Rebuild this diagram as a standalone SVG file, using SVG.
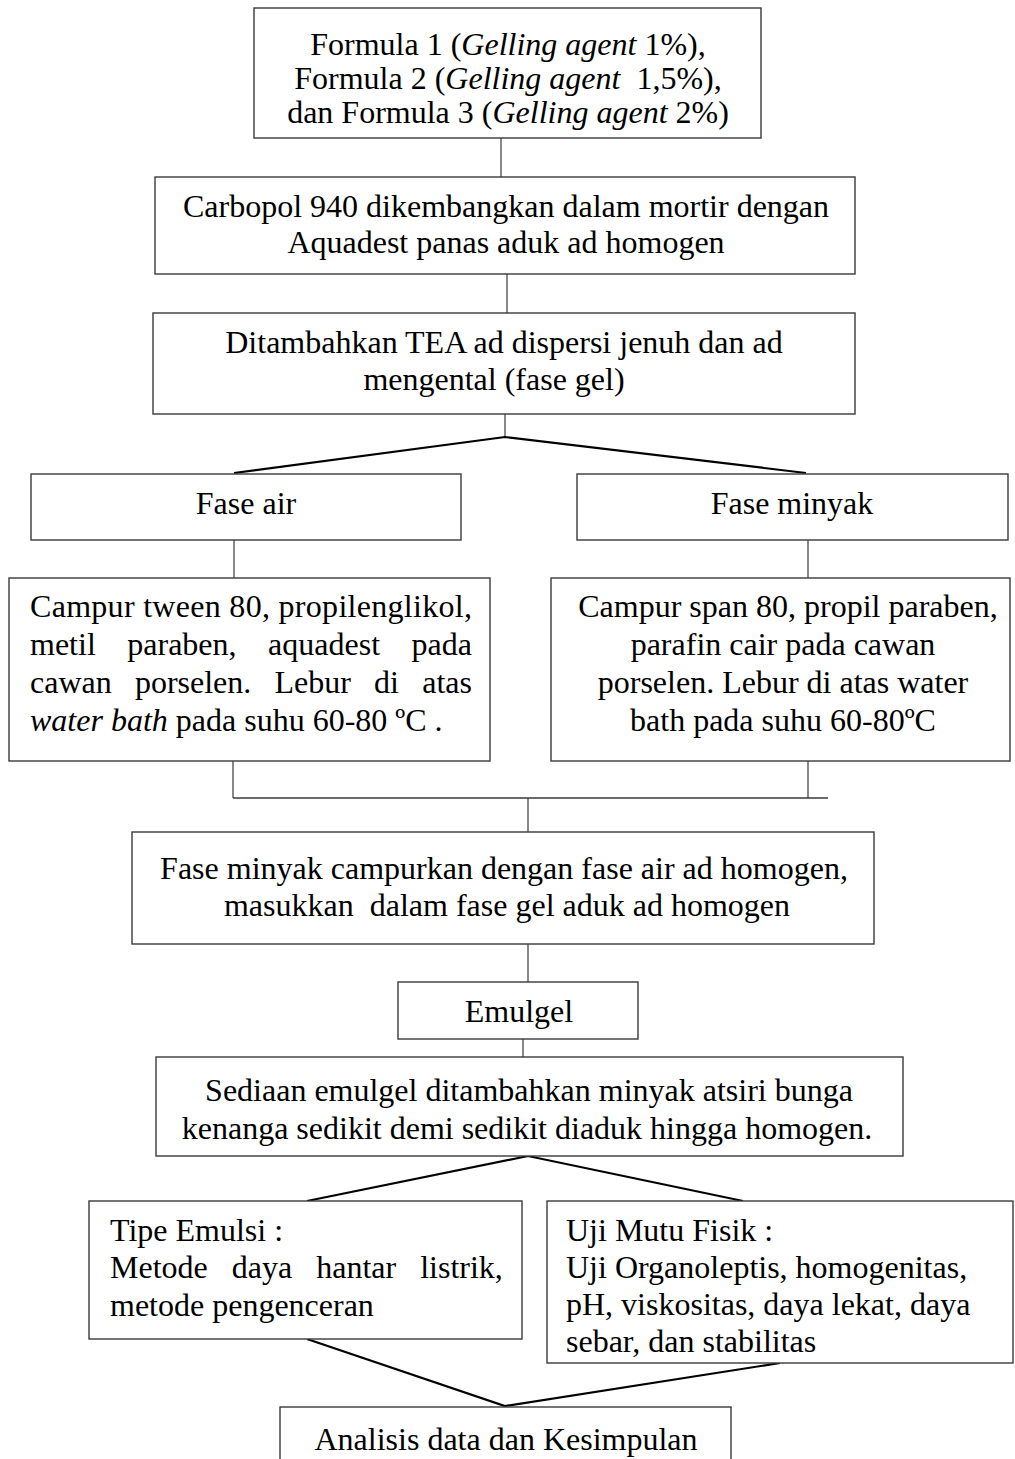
<svg xmlns="http://www.w3.org/2000/svg" width="1015" height="1459" viewBox="0 0 1015 1459">
<style>
.box{fill:#fff;stroke:#3a3a3a;stroke-width:1.4}
.t{font-family:"Liberation Serif","Times New Roman",serif;font-size:32px;fill:#000}
.c{text-anchor:middle}
.i{font-style:italic}
.ln{stroke:#3a3a3a;stroke-width:1.2;fill:none}
.dg{stroke:#000;stroke-width:2.2;fill:none}
</style>
<rect width="1015" height="1459" fill="#fff"/>
<g id="connectors">
<line class="ln" x1="501" y1="138" x2="501" y2="177"/>
<line class="ln" x1="507" y1="274" x2="507" y2="313"/>
<line class="ln" x1="505" y1="414" x2="505" y2="437"/>
<polyline class="dg" points="234,473 505,437 806,473"/>
<line class="ln" x1="234" y1="540" x2="234" y2="578"/>
<line class="ln" x1="808" y1="540" x2="808" y2="578"/>
<line class="ln" x1="233" y1="761" x2="233" y2="798"/>
<line class="ln" x1="808" y1="761" x2="808" y2="798"/>
<line class="ln" x1="233" y1="798" x2="828" y2="798" style="stroke-width:1.6"/>
<line class="ln" x1="528" y1="798" x2="528" y2="832"/>
<line class="ln" x1="528" y1="944" x2="528" y2="982"/>
<line class="ln" x1="523" y1="1037" x2="523" y2="1057"/>
<polyline class="dg" points="307,1201 528,1156 743,1201"/>
<polyline class="dg" points="307,1339 505,1406 780,1363"/>
</g>
<g id="n1">
<rect class="box" x="254" y="8" width="507" height="130"/>
<text class="t c" x="508" y="55">Formula 1 (<tspan class="i">Gelling agent</tspan> 1%),</text>
<text class="t c" x="508" y="89">Formula 2 (<tspan class="i">Gelling agent</tspan><tspan dx="8"> 1,5%),</tspan></text>
<text class="t c" x="508" y="123">dan Formula 3 (<tspan class="i">Gelling agent</tspan> 2%)</text>
</g>
<g id="n2">
<rect class="box" x="155" y="177" width="700" height="97"/>
<text class="t c" x="506" y="217">Carbopol 940 dikembangkan dalam mortir dengan</text>
<text class="t c" x="506" y="253">Aquadest panas aduk ad homogen</text>
</g>
<g id="n3">
<rect class="box" x="153" y="313" width="702" height="101"/>
<text class="t c" x="504" y="353">Ditambahkan TEA ad dispersi jenuh dan ad</text>
<text class="t c" x="494" y="390">mengental (fase gel)</text>
</g>
<g id="n4a">
<rect class="box" x="31" y="474" width="430" height="66"/>
<text class="t c" x="246" y="514">Fase air</text>
</g>
<g id="n4b">
<rect class="box" x="577" y="474" width="431" height="66"/>
<text class="t c" x="792" y="514">Fase minyak</text>
</g>
<g id="n5a">
<rect class="box" x="9" y="578" width="481" height="183"/>
<text class="t" x="30" y="617" textLength="442" lengthAdjust="spacing">Campur tween 80, propilenglikol,</text>
<text class="t" y="655"><tspan x="30">metil</tspan><tspan x="127.3">paraben,</tspan><tspan x="268.1">aquadest</tspan><tspan x="411.6">pada</tspan></text>
<text class="t" y="693"><tspan x="30">cawan</tspan><tspan x="134.9">porselen.</tspan><tspan x="274.5">Lebur</tspan><tspan x="374.1">di</tspan><tspan x="422.2">atas</tspan></text>
<text class="t" x="30" y="731"><tspan class="i">water bath</tspan> pada suhu 60-80 ºC .</text>
</g>
<g id="n5b">
<rect class="box" x="551" y="578" width="459" height="183"/>
<text class="t c" x="788" y="617">Campur span 80, propil paraben,</text>
<text class="t c" x="783" y="655">parafin cair pada cawan</text>
<text class="t c" x="783" y="693">porselen. Lebur di atas water</text>
<text class="t c" x="783" y="731">bath pada suhu 60-80ºC</text>
</g>
<g id="n6">
<rect class="box" x="132" y="832" width="742" height="112"/>
<text class="t c" x="504" y="879">Fase minyak campurkan dengan fase air ad homogen,</text>
<text class="t c" x="507" y="916">masukkan<tspan dx="8"> dalam fase gel aduk ad homogen</tspan></text>
</g>
<g id="n7">
<rect class="box" x="398" y="982" width="240" height="57"/>
<text class="t c" x="519" y="1022">Emulgel</text>
</g>
<g id="n8">
<rect class="box" x="156" y="1057" width="747" height="99"/>
<text class="t c" x="529" y="1101">Sediaan emulgel ditambahkan minyak atsiri bunga</text>
<text class="t c" x="527" y="1139">kenanga sedikit demi sedikit diaduk hingga homogen.</text>
</g>
<g id="n9a">
<rect class="box" x="89" y="1201" width="433" height="138"/>
<text class="t" x="110" y="1241">Tipe Emulsi :</text>
<text class="t" y="1278"><tspan x="110">Metode</tspan><tspan x="231.8">daya</tspan><tspan x="316.2">hantar</tspan><tspan x="420.2">listrik,</tspan></text>
<text class="t" x="110" y="1316">metode pengenceran</text>
</g>
<g id="n9b">
<rect class="box" x="547" y="1201" width="466" height="162"/>
<text class="t" x="566" y="1241">Uji Mutu Fisik :</text>
<text class="t" x="566" y="1278">Uji Organoleptis, homogenitas,</text>
<text class="t" x="566" y="1315">pH, viskositas, daya lekat, daya</text>
<text class="t" x="566" y="1352">sebar, dan stabilitas</text>
</g>
<g id="n10">
<rect class="box" x="280" y="1407" width="451" height="70"/>
<text class="t c" x="506" y="1450">Analisis data dan Kesimpulan</text>
</g>
</svg>
